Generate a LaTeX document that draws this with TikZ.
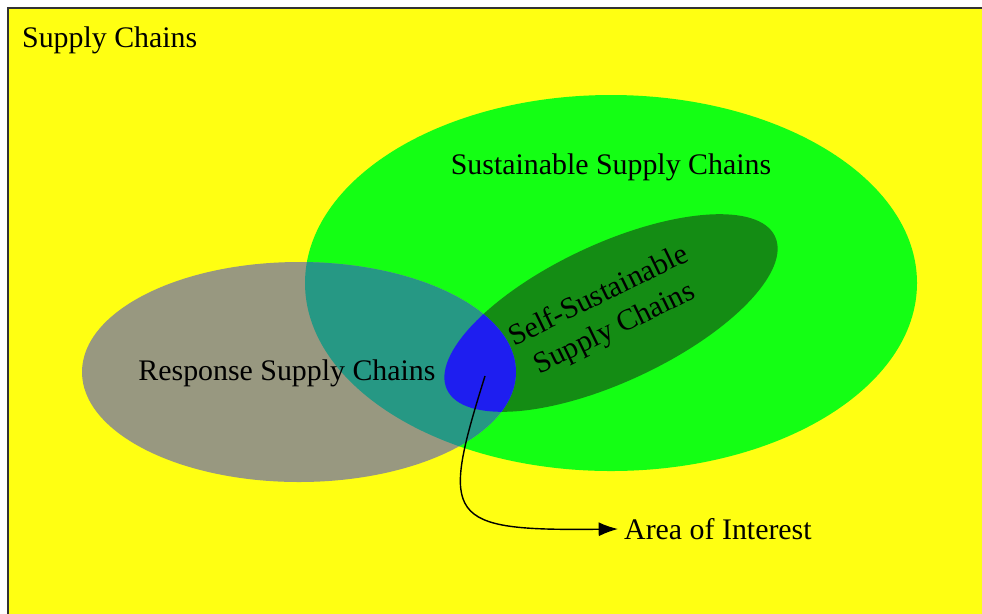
\documentclass[tikz,border=0pt]{standalone}
\usepackage{fontspec}
\setmainfont{Liberation Serif}
\usetikzlibrary{arrows.meta}

\definecolor{scyellow}{RGB}{255,255,18}
\definecolor{scgreen}{RGB}{20,255,20}
\definecolor{scdark}{RGB}{20,140,20}
\definecolor{scgray}{RGB}{152,152,128}
\definecolor{scteal}{RGB}{38,152,132}
\definecolor{scblue}{RGB}{30,30,240}

\tikzset{
  label/.style={font=\fontsize{17}{20.5}\selectfont, text=black},
  pointer/.style={-{Latex[length=11pt,width=8pt]}, line width=0.8pt}
}

\begin{document}
\begin{tikzpicture}[x=0.02cm, y=-0.02cm]
\useasboundingbox (0,0) rectangle (982,613);

% Frame
\fill[scyellow] (8,8) rectangle (995,625);
\draw[line width=1.5pt, black!80] (8,625) -- (8,8) -- (995,8);

% Sets
\fill[scgreen] (611,283) ellipse [x radius=306, y radius=188];
\fill[scgray] (299,372) ellipse [x radius=217, y radius=110];
\fill[scdark, rotate around={25:(611,313)}] (611,313) ellipse [x radius=181, y radius=69];

% Overlaps
\begin{scope}
  \clip (299,372) ellipse [x radius=217, y radius=110];
  \fill[scteal] (611,283) ellipse [x radius=306, y radius=188];
  \fill[scblue, rotate around={25:(611,313)}] (611,313) ellipse [x radius=181, y radius=69];
\end{scope}

% Labels
\node[label, anchor=west] (all) at (16,40) {Supply Chains};
\node[label] (sustain) at (611,167) {Sustainable Supply Chains};
\node[label] (response) at (287,373) {Response Supply Chains};
\node[label, align=center, rotate=26] (self) at (607,313) {Self-Sustainable\\Supply Chains};
\node[label, anchor=west] (aoi) at (618,529) {Area of Interest};

% Pointer
\coordinate (core) at (485,376);
\draw[pointer] (core) .. controls (440,520) and (445,531) .. (aoi.west);
\end{tikzpicture}
\end{document}
